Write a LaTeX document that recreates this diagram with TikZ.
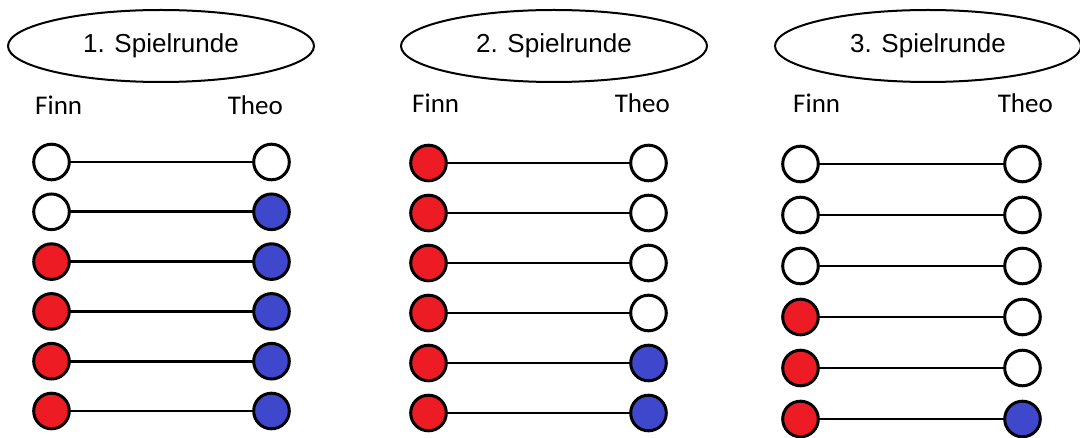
\documentclass[tikz,border=0pt]{standalone}
\usepackage{fontspec}
\setmainfont{Liberation Sans}
\newfontfamily\namefont{Carlito}
\usepackage{tikz}
\usetikzlibrary{matrix}
\usetikzlibrary{shapes.geometric}

\definecolor{finnred}{RGB}{237,28,36}
\definecolor{theoblue}{RGB}{63,72,204}

\tikzset{
  ball/.style={circle,draw,line width=3pt,minimum size=35.6pt,inner sep=0pt,outer sep=0pt,fill=white},
  rd/.style={ball,fill=finnred},
  bl/.style={ball,fill=theoblue},
  wh/.style={ball},
  runde/.style={ellipse,draw,line width=2pt,minimum width=306pt,minimum height=72pt,inner sep=0pt,font=\fontsize{26}{30}\selectfont},
  player/.style={font=\namefont\fontsize{27}{32}\selectfont,inner sep=0pt},
  link/.style={line width=2.9pt}
}

\begin{document}
\begin{tikzpicture}[x=1pt,y=-1pt]
  \useasboundingbox (0,0) rectangle (1080,438);
  % Spielrunden
  \node[runde] (r1) at (161,46) {1. Spielrunde};
  \node[runde] (r2) at (554,46) {2. Spielrunde};
  \node[runde] (r3) at (928,46) {3. Spielrunde};
  % Namen
  \node[player,anchor=base west] (f1) at (35,115) {Finn};
  \node[player,anchor=base east] (t1) at (283,115) {Theo};
  \node[player,anchor=base west] (f2) at (412,113) {Finn};
  \node[player,anchor=base east] (t2) at (670,113) {Theo};
  \node[player,anchor=base west] (f3) at (793,113) {Finn};
  \node[player,anchor=base east] (t3) at (1053,113) {Theo};
  % Runde 1
  \matrix (g1) at (161.5,286.5) [matrix of nodes,row sep=11.2pt,column sep=181.4pt]
   {|[wh]| \mbox{} & |[wh]| \mbox{} \\
    |[wh]| \mbox{} & |[bl]| \mbox{} \\
    |[rd]| \mbox{} & |[bl]| \mbox{} \\
    |[rd]| \mbox{} & |[bl]| \mbox{} \\
    |[rd]| \mbox{} & |[bl]| \mbox{} \\
    |[rd]| \mbox{} & |[bl]| \mbox{} \\};
  % Runde 2
  \matrix (g2) at (538.5,288) [matrix of nodes,row sep=11.4pt,column sep=181.4pt]
   {|[rd]| \mbox{} & |[wh]| \mbox{} \\
    |[rd]| \mbox{} & |[wh]| \mbox{} \\
    |[rd]| \mbox{} & |[wh]| \mbox{} \\
    |[rd]| \mbox{} & |[wh]| \mbox{} \\
    |[rd]| \mbox{} & |[bl]| \mbox{} \\
    |[rd]| \mbox{} & |[bl]| \mbox{} \\};
  % Runde 3
  \matrix (g3) at (911.5,291.5) [matrix of nodes,row sep=12.4pt,column sep=183.4pt]
   {|[wh]| \mbox{} & |[wh]| \mbox{} \\
    |[wh]| \mbox{} & |[wh]| \mbox{} \\
    |[wh]| \mbox{} & |[wh]| \mbox{} \\
    |[rd]| \mbox{} & |[wh]| \mbox{} \\
    |[rd]| \mbox{} & |[wh]| \mbox{} \\
    |[rd]| \mbox{} & |[bl]| \mbox{} \\};
  % Verbindungen
  \path[link]
    (g1-1-1) edge (g1-1-2) (g1-2-1) edge (g1-2-2) (g1-3-1) edge (g1-3-2)
    (g1-4-1) edge (g1-4-2) (g1-5-1) edge (g1-5-2) (g1-6-1) edge (g1-6-2);
  \path[link]
    (g2-1-1) edge (g2-1-2) (g2-2-1) edge (g2-2-2) (g2-3-1) edge (g2-3-2)
    (g2-4-1) edge (g2-4-2) (g2-5-1) edge (g2-5-2) (g2-6-1) edge (g2-6-2);
  \path[link]
    (g3-1-1) edge (g3-1-2) (g3-2-1) edge (g3-2-2) (g3-3-1) edge (g3-3-2)
    (g3-4-1) edge (g3-4-2) (g3-5-1) edge (g3-5-2) (g3-6-1) edge (g3-6-2);
\end{tikzpicture}
\end{document}
